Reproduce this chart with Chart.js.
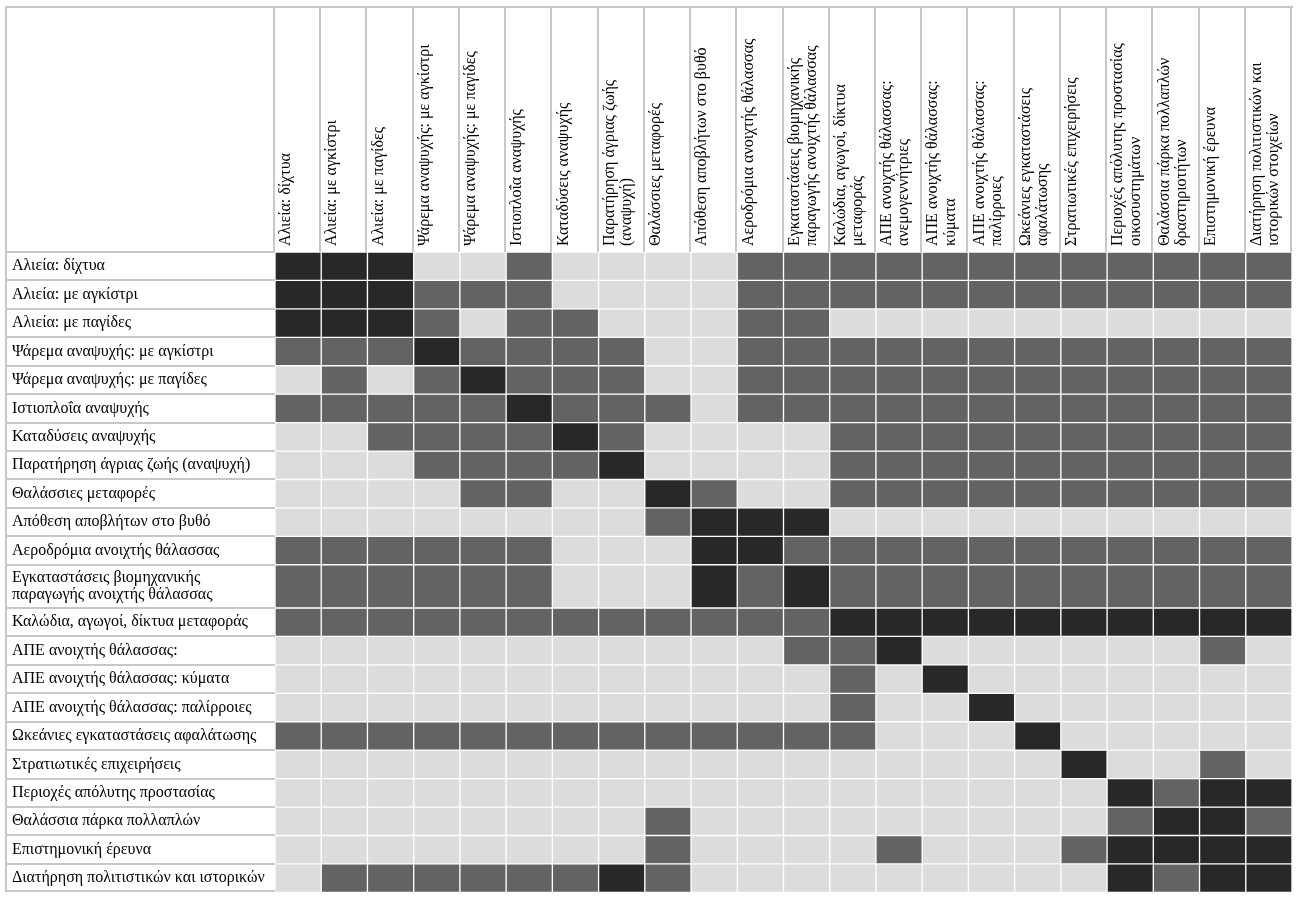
<!DOCTYPE html>
<html>
<head>
<meta charset="utf-8">
<script src="https://cdn.jsdelivr.net/npm/chart.js@4.4.0/dist/chart.umd.min.js"></script>
<style>
html,body{margin:0;padding:0;background:#ffffff;}
#wrap{width:1298px;height:901px;position:relative;}
</style>
</head>
<body>
<div id="wrap"><canvas id="c"></canvas></div>
<script>
// ---- Column (header) labels ----
const columnLabels = [
  ["Αλιεία: δίχτυα"],
  ["Αλιεία: με αγκίστρι"],
  ["Αλιεία: με παγίδες"],
  ["Ψάρεμα αναψυχής: με αγκίστρι"],
  ["Ψάρεμα αναψυχής: με παγίδες"],
  ["Ιστιοπλοΐα αναψυχής"],
  ["Καταδύσεις αναψυχής"],
  ["Παρατήρηση άγριας ζωής", "(αναψυχή)"],
  ["Θαλάσσιες μεταφορές"],
  ["Απόθεση αποβλήτων στο βυθό"],
  ["Αεροδρόμια ανοιχτής θάλασσας"],
  ["Εγκαταστάσεις βιομηχανικής", "παραγωγής ανοιχτής θάλασσας"],
  ["Καλώδια, αγωγοί, δίκτυα", "μεταφοράς"],
  ["ΑΠΕ ανοιχτής θάλασσας:", "ανεμογεννήτριες"],
  ["ΑΠΕ ανοιχτής θάλασσας:", "κύματα"],
  ["ΑΠΕ ανοιχτής θάλασσας:", "παλίρροιες"],
  ["Ωκεάνιες εγκαταστάσεις", "αφαλάτωσης"],
  ["Στρατιωτικές επιχειρήσεις"],
  ["Περιοχές απόλυτης προστασίας", "οικοσυστημάτων"],
  ["Θαλάσσια πάρκα πολλαπλών", "δραστηριοτήτων"],
  ["Επιστημονική έρευνα"],
  ["Διατήρηση πολιτιστικών και", "ιστορικών στοιχείων"]
];

// ---- Row labels ----
const rowLabels = [
  "Αλιεία: δίχτυα",
  "Αλιεία: με αγκίστρι",
  "Αλιεία: με παγίδες",
  "Ψάρεμα αναψυχής: με αγκίστρι",
  "Ψάρεμα αναψυχής: με παγίδες",
  "Ιστιοπλοΐα αναψυχής",
  "Καταδύσεις αναψυχής",
  "Παρατήρηση άγριας ζωής (αναψυχή)",
  "Θαλάσσιες μεταφορές",
  "Απόθεση αποβλήτων στο βυθό",
  "Αεροδρόμια ανοιχτής θάλασσας",
  ["Εγκαταστάσεις βιομηχανικής", "παραγωγής ανοιχτής θάλασσας"],
  "Καλώδια, αγωγοί, δίκτυα μεταφοράς",
  "ΑΠΕ ανοιχτής θάλασσας:",
  "ΑΠΕ ανοιχτής θάλασσας: κύματα",
  "ΑΠΕ ανοιχτής θάλασσας: παλίρροιες",
  "Ωκεάνιες εγκαταστάσεις αφαλάτωσης",
  "Στρατιωτικές επιχειρήσεις",
  "Περιοχές απόλυτης προστασίας",
  "Θαλάσσια πάρκα πολλαπλών",
  "Επιστημονική έρευνα",
  "Διατήρηση πολιτιστικών και ιστορικών"
];

// ---- Cell levels per row (0 = low, 1 = medium, 2 = high) ----
const rowAlieiaDixtya      = [2,2,2,0,0,1,0,0,0,0,1,1,1,1,1,1,1,1,1,1,1,1];
const rowAlieiaAgkistri    = [2,2,2,1,1,1,0,0,0,0,1,1,1,1,1,1,1,1,1,1,1,1];
const rowAlieiaPagides     = [2,2,2,1,0,1,1,0,0,0,1,1,0,0,0,0,0,0,0,0,0,0];
const rowPsaremaAgkistri   = [1,1,1,2,1,1,1,1,0,0,1,1,1,1,1,1,1,1,1,1,1,1];
const rowPsaremaPagides    = [0,1,0,1,2,1,1,1,0,0,1,1,1,1,1,1,1,1,1,1,1,1];
const rowIstioploia        = [1,1,1,1,1,2,1,1,1,0,1,1,1,1,1,1,1,1,1,1,1,1];
const rowKatadyseis        = [0,0,1,1,1,1,2,1,0,0,0,0,1,1,1,1,1,1,1,1,1,1];
const rowParatirisi        = [0,0,0,1,1,1,1,2,0,0,0,0,1,1,1,1,1,1,1,1,1,1];
const rowMetafores         = [0,0,0,0,1,1,0,0,2,1,0,0,1,1,1,1,1,1,1,1,1,1];
const rowApothesi          = [0,0,0,0,0,0,0,0,1,2,2,2,0,0,0,0,0,0,0,0,0,0];
const rowAerodromia        = [1,1,1,1,1,1,0,0,0,2,2,1,1,1,1,1,1,1,1,1,1,1];
const rowEgkatastaseis     = [1,1,1,1,1,1,0,0,0,2,1,2,1,1,1,1,1,1,1,1,1,1];
const rowKalodia           = [1,1,1,1,1,1,1,1,1,1,1,1,2,2,2,2,2,2,2,2,2,2];
const rowApeAnemos         = [0,0,0,0,0,0,0,0,0,0,0,1,1,2,0,0,0,0,0,0,1,0];
const rowApeKymata         = [0,0,0,0,0,0,0,0,0,0,0,0,1,0,2,0,0,0,0,0,0,0];
const rowApePalirroies     = [0,0,0,0,0,0,0,0,0,0,0,0,1,0,0,2,0,0,0,0,0,0];
const rowAfalatosi         = [1,1,1,1,1,1,1,1,1,1,1,1,1,0,0,0,2,0,0,0,0,0];
const rowStratiotikes      = [0,0,0,0,0,0,0,0,0,0,0,0,0,0,0,0,0,2,0,0,1,0];
const rowProstasia         = [0,0,0,0,0,0,0,0,0,0,0,0,0,0,0,0,0,0,2,1,2,2];
const rowParka             = [0,0,0,0,0,0,0,0,1,0,0,0,0,0,0,0,0,0,1,2,2,1];
const rowEreuna            = [0,0,0,0,0,0,0,0,1,0,0,0,0,1,0,0,0,1,2,2,2,2];
const rowDiatirisi         = [0,1,1,1,1,1,1,2,1,0,0,0,0,0,0,0,0,0,2,1,2,2];

const rowLevels = [
  rowAlieiaDixtya, rowAlieiaAgkistri, rowAlieiaPagides, rowPsaremaAgkistri,
  rowPsaremaPagides, rowIstioploia, rowKatadyseis, rowParatirisi, rowMetafores,
  rowApothesi, rowAerodromia, rowEgkatastaseis, rowKalodia, rowApeAnemos,
  rowApeKymata, rowApePalirroies, rowAfalatosi, rowStratiotikes, rowProstasia,
  rowParka, rowEreuna, rowDiatirisi
];

// ---- styles ----
const levelColors = ['#dcdcdc', '#636363', '#282828'];
const lineGray = '#c8c8c8';
const FONT = {family: "'Liberation Serif', 'DejaVu Serif', serif", size: 16, lineHeight: 1.08};

// row spans (two-line labels get taller rows)
const rowSpans = rowLabels.map(l => Array.isArray(l) ? 1.52 : 1);
const rowStarts = [];
let acc = 0;
rowSpans.forEach(s => { rowStarts.push(acc); acc += s; });
const totalSpan = acc;
const rowCenters = rowStarts.map((s, i) => s + rowSpans[i] / 2);

// header labels padded to two lines so they share the same alignment
const headerLabels = columnLabels.map(l => l.length === 2 ? l : [l[0], '']);

const datasets = rowLevels.map((levels, r) => ({
  label: Array.isArray(rowLabels[r]) ? rowLabels[r].join(' ') : rowLabels[r],
  data: levels.map(() => [rowStarts[r], rowStarts[r] + rowSpans[r]]),
  backgroundColor: levels.map(v => levelColors[v]),
  borderColor: '#ffffff',
  borderWidth: 1,
  borderSkipped: false,
  grouped: false,
  categoryPercentage: 1,
  barPercentage: 1
}));

const tableLines = {
  id: 'tableLines',
  afterDraw(chart) {
    const {ctx, chartArea: a, scales: {x, y}} = chart;
    const n = headerLabels.length;
    const colW = a.width / n;
    const L = 6, T = 7;
    ctx.save();
    ctx.strokeStyle = lineGray;
    ctx.lineWidth = 2;
    ctx.beginPath();
    ctx.moveTo(L - 1, T); ctx.lineTo(a.right + 1, T);
    ctx.moveTo(L, T - 1); ctx.lineTo(L, a.bottom);
    for (let i = 0; i <= n; i++) {
      const px = Math.round(a.left + i * colW) - 1;
      ctx.moveTo(px, T); ctx.lineTo(px, a.top);
    }
    for (let r = 0; r <= rowStarts.length; r++) {
      const v = r < rowStarts.length ? rowStarts[r] : totalSpan;
      const py = Math.round(y.getPixelForValue(v)) - (r === rowStarts.length ? 1 : 0);
      ctx.moveTo(L - 1, py); ctx.lineTo(a.left, py);
    }
    ctx.stroke();
    ctx.restore();
  }
};

new Chart(document.getElementById('c'), {
  type: 'bar',
  data: {labels: headerLabels, datasets},
  plugins: [tableLines],
  options: {
    responsive: true,
    maintainAspectRatio: false,
    devicePixelRatio: 1,
    animation: false,
    layout: {padding: {top: 8, left: 12, right: 6, bottom: 5}},
    plugins: {legend: {display: false}, tooltip: {enabled: false}},
    scales: {
      x: {
        type: 'category',
        position: 'top',
        offset: true,
        grid: {display: false, drawTicks: false},
        border: {display: false},
        ticks: {
          autoSkip: false,
          minRotation: 90,
          maxRotation: 90,
          padding: 6,
          labelOffset: 22.5,
          color: '#000',
          font: FONT
        },
        afterFit(s) { s.height = 244; }
      },
      y: {
        type: 'linear',
        position: 'left',
        reverse: true,
        min: 0,
        max: totalSpan,
        grid: {display: false, drawTicks: false},
        border: {display: false},
        afterBuildTicks(s) { s.ticks = rowCenters.map(v => ({value: v})); },
        ticks: {
          autoSkip: false,
          crossAlign: 'far',
          padding: 0,
          color: '#000',
          font: FONT,
          callback: (v, i) => rowLabels[i]
        },
        afterFit(s) { s.width = 263; }
      }
    }
  }
});
</script>
</body>
</html>
